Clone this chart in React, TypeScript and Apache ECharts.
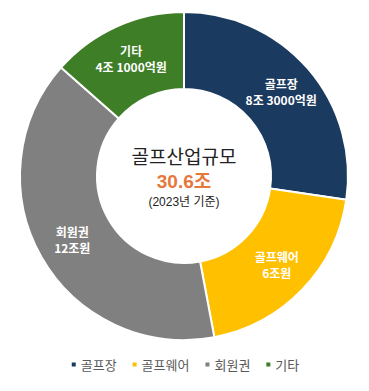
import React, { useEffect, useRef } from "react";
import * as echarts from "echarts";

const categories = ["골프장", "골프웨어", "회원권", "기타"];
const values = [8.3, 6, 12, 4.1];
const sliceLabels = ["골프장\n8조 3000억원", "골프웨어\n6조원", "회원권\n12조원", "기타\n4조 1000억원"];
const colors = ["#1B3A5F", "#FFC000", "#808080", "#3E7E27"];
const centerTitle = "골프산업규모";
const centerValue = "30.6조";
const centerNote = "(2023년 기준)";

const FONT = '"Noto Sans CJK KR", "Noto Sans", sans-serif';
const CFONT = '"Liberation Sans", "Noto Sans CJK KR", sans-serif';

export default function App() {
  const ref = useRef<HTMLDivElement>(null);
  useEffect(() => {
    if (!ref.current) return;
    const chart = echarts.init(ref.current, undefined, { renderer: "svg" });
    chart.setOption({
      animation: false,
      backgroundColor: "#ffffff",
      title: [
        {
          text: centerTitle,
          left: 184,
          top: 148,
          padding: 0,
          textAlign: "center",
          textStyle: { fontFamily: CFONT, fontSize: 19, lineHeight: 19, fontWeight: "normal", color: "#222222" },
        },
        {
          text: centerValue,
          left: 184,
          top: 172,
          padding: 0,
          textAlign: "center",
          textStyle: { fontFamily: CFONT, fontSize: 19, lineHeight: 19, fontWeight: "bold", color: "#E5783A" },
        },
        {
          text: centerNote,
          left: 184,
          top: 196,
          padding: 0,
          textAlign: "center",
          textStyle: { fontFamily: CFONT, fontSize: 12, lineHeight: 12, fontWeight: "normal", color: "#222222" },
        },
      ],
      legend: {
        bottom: 15,
        left: "center",
        icon: "rect",
        itemWidth: 6,
        itemHeight: 6,
        itemGap: 14,
        textStyle: { fontFamily: FONT, fontSize: 13, color: "#595959", padding: [0, 0, 0, -1] },
        data: categories,
      },
      series: [
        {
          type: "pie",
          center: [184, 176],
          radius: [87, 164],
          startAngle: 90,
          clockwise: true,
          avoidLabelOverlap: false,
          itemStyle: { borderColor: "#ffffff", borderWidth: 2 },
          label: {
            show: true,
            position: "inside",
            fontFamily: FONT,
            fontSize: 12,
            fontWeight: "bold",
            color: "#ffffff",
            lineHeight: 16,
            formatter: (p: any) => sliceLabels[p.dataIndex],
          },
          labelLine: { show: false },
          emphasis: { disabled: true },
          data: categories.map((c, i) => ({
            name: c,
            value: values[i],
            itemStyle: { color: colors[i] },
          })),
        },
      ],
    });
    return () => chart.dispose();
  }, []);
  return (
    <div
      ref={ref}
      style={{ position: "fixed", left: 0, top: 0, width: 369, height: 391 }}
    />
  );
}
